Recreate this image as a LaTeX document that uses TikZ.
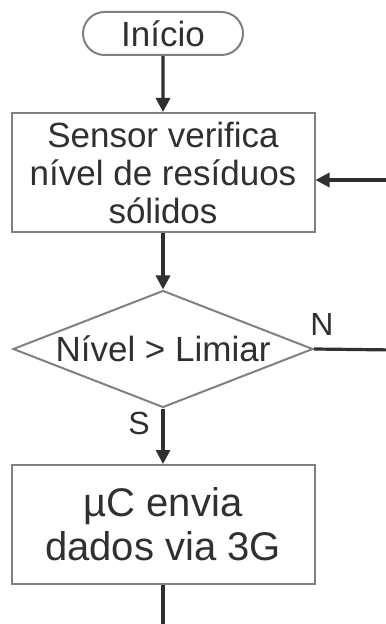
\documentclass[tikz,border=0pt]{standalone}
\usepackage{fontspec}
\setmainfont{Liberation Sans}
\usetikzlibrary{shapes.geometric,shapes.misc,arrows.meta}

\begin{document}
\begin{tikzpicture}[x=0.5pt,y=-0.5pt,
  box/.style={draw=boxgray,line width=1pt,fill=white,text=ink,align=center,inner sep=0pt},
  wire/.style={draw=ink,line width=1.6pt},
  flow/.style={wire,-{Triangle[length=7pt,width=7pt]}},
  txt/.style={font=\fontsize{17.5pt}{19pt}\selectfont},
  big/.style={font=\fontsize{20pt}{22pt}\selectfont},
  tag/.style={text=ink,inner sep=0pt,font=\fontsize{16pt}{18pt}\selectfont}]

\definecolor{ink}{RGB}{48,48,48};
\definecolor{boxgray}{RGB}{128,128,128};
\def\cx{163};

\useasboundingbox (0,0) rectangle (385,624);

\node[box,txt,rounded rectangle,minimum width=80pt,minimum height=21.5pt] (inicio) at (\cx,33.5) {Início};
\node[box,txt,minimum width=151.5pt,minimum height=59.5pt] (sensor) at (\cx,172.5) {Sensor verifica\\nível de resíduos\\sólidos};
\node[box,txt,diamond,aspect=2.56,minimum width=150pt,minimum height=58.5pt] (nivel) at (\cx,349) {Nível > Limiar};
\node[box,big,minimum width=151.5pt,minimum height=59.5pt] (envia) at (\cx,524.5) {µC envia\\dados via 3G};

\draw[flow] (inicio) -- (sensor);
\draw[flow] (sensor) -- (nivel);
\draw[flow] (nivel) -- (envia);

% off the right edge
\coordinate (back) at (395,180);
\coordinate (nout) at (395,350);
\coordinate (down) at (\cx,630);
\draw[flow] (back) -- (back -| sensor.east);
\draw[wire] (nivel.east) -- (nout);
\draw[wire] (envia) -- (down);

\node[tag] (lblN) at (322,324) {N};
\node[tag] (lblS) at (139,423) {S};

\end{tikzpicture}
\end{document}
